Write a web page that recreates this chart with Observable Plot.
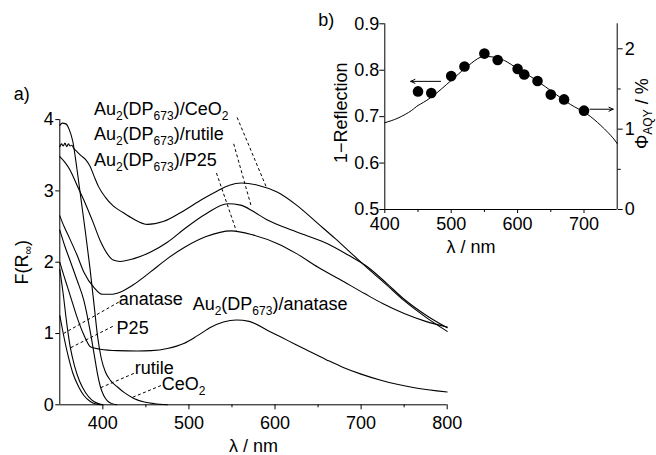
<!DOCTYPE html>
<html><head><meta charset="utf-8">
<script src="https://cdn.jsdelivr.net/npm/d3@7"></script>
<script src="https://cdn.jsdelivr.net/npm/@observablehq/plot@0.6"></script>
<style>
html,body{margin:0;padding:0;background:#fff;}
#wrap{position:relative;width:656px;height:455px;overflow:hidden;background:#fff;}
#wrap svg{position:absolute;left:0;top:0;}
</style></head><body><div id="wrap"></div>
<script>
// ---------- Panel a) : F(R∞) spectra ----------
const auCeO2_nm = [350,352,354,356,358,360,362,364,366,370,375,380,385,390,395,403,412,423,435,452,470,495,515,533,547,561,580,603,625,650,670,689,708,728,750,775,800];
const auCeO2_F  = [3.62,3.66,3.63,3.67,3.62,3.66,3.63,3.64,3.60,3.55,3.49,3.44,3.35,3.20,3.06,2.91,2.79,2.70,2.61,2.53,2.57,2.73,2.88,3.00,3.08,3.11,3.08,2.98,2.80,2.54,2.33,2.12,1.91,1.70,1.46,1.23,1.03];

const auRut_nm = [350,356,362,370,378,388,397,405,412,420,436,455,475,495,520,545,560,575,590,611,635,661,685,708,730,750,775,800];
const auRut_F  = [3.48,3.40,3.29,3.08,2.87,2.58,2.30,2.12,2.03,2.01,2.05,2.14,2.28,2.47,2.68,2.82,2.80,2.71,2.60,2.49,2.38,2.26,2.10,1.93,1.70,1.48,1.26,1.08];

const auP25_nm = [350,355,360,370,378,390,399,410,420,435,455,475,495,520,549,575,603,625,650,675,704,725,750,775,800];
const auP25_F  = [2.65,2.50,2.37,2.10,1.86,1.64,1.55,1.55,1.58,1.68,1.86,2.05,2.21,2.36,2.44,2.38,2.26,2.12,1.93,1.76,1.56,1.42,1.28,1.17,1.09];

const auAna_nm = [350,355,359,365,370,378,386,397,417,440,456,475,494,510,526,540,555,570,592,615,638,660,680,700,724,762,800];
const auAna_F  = [2.00,1.80,1.65,1.42,1.23,0.98,0.81,0.78,0.76,0.755,0.76,0.79,0.86,0.97,1.09,1.16,1.19,1.17,1.04,0.90,0.76,0.63,0.52,0.43,0.34,0.24,0.18];

const ceo2_nm = [350,353,357,361,365,370,375,380,385,390,394,398,403,409,417,425,436,448,460,475];
const ceo2_F  = [3.92,3.95,3.94,3.86,3.70,3.30,2.85,2.40,1.92,1.38,0.95,0.66,0.46,0.34,0.25,0.17,0.09,0.04,0.015,0.0];

const rut_nm = [350,356,362,370,378,385,390,394,397,401,405,410,416];
const rut_F  = [2.45,2.22,2.02,1.75,1.46,1.05,0.70,0.42,0.26,0.13,0.06,0.02,0.0];

const p25_nm = [350,354,358,362,367,373,380,387,394,400];
const p25_F  = [1.90,1.55,1.15,0.82,0.55,0.33,0.17,0.07,0.02,0.0];

const ana_nm = [350,354,359,365,372,378,385,392,398];
const ana_F  = [1.25,1.00,0.72,0.45,0.25,0.13,0.05,0.01,0.0];

const xTicksA = [400,500,600,700,800];
const xMinorA = [450,550,650,750];
const yTicksA = [0,1,2,3,4];

// labels of panel a)
const labTextA = ["Au_{2}(DP_{673})/CeO_{2}","Au_{2}(DP_{673})/rutile","Au_{2}(DP_{673})/P25","anatase","P25","rutile","CeO_{2}","Au_{2}(DP_{673})/anatase"];
const labXA = [389.6,389.6,389.6,418.4,416,437,468.5,504.3];
const labYA = [4.14,3.79,3.43,1.48,1.08,0.51,0.285,1.41];
// leader lines (label end -> curve)
const leadX1 = [556,552,532,418.4,411.5,436,467.5];
const leadY1 = [4.03,3.66,3.25,1.44,1.10,0.44,0.27];
const leadX2 = [590,572,555,354.4,362.5,397.5,433.6];
const leadY2 = [3.05,2.80,2.44,1.00,0.80,0.24,0.10];

// ---------- Panel b) ----------
const refl_nm = [400,420,440,450,470,500,520,540,550,560,580,600,620,650,680,700,720,740,750];
const refl_v  = [0.687,0.697,0.713,0.724,0.742,0.778,0.803,0.825,0.829,0.829,0.821,0.803,0.786,0.756,0.726,0.710,0.688,0.660,0.642];
const aqy_nm = [450,470,500,520,550,570,600,610,630,650,670,700];
const aqy_v  = [1.47,1.45,1.66,1.78,1.94,1.86,1.75,1.68,1.60,1.43,1.37,1.23];
const xTicksB = [400,500,600,700];
const xMinorB = [450,550,650];
const yTicksB = [0.5,0.6,0.7,0.8,0.9];
const yTicksR = [0,1,2];
const yMinorR = [0.5,1.5];
// arrows: [x1,x2,y]
const arrX1 = [484,709];
const arrX2 = [439,744];
const arrY  = [0.776,0.716];

// ---------- build ----------
const series = [
  ["Au2(DP673)/CeO2", auCeO2_nm, auCeO2_F],
  ["Au2(DP673)/rutile", auRut_nm, auRut_F],
  ["Au2(DP673)/P25", auP25_nm, auP25_F],
  ["Au2(DP673)/anatase", auAna_nm, auAna_F],
  ["CeO2", ceo2_nm, ceo2_F],
  ["rutile", rut_nm, rut_F],
  ["P25", p25_nm, p25_F],
  ["anatase", ana_nm, ana_F]
];
const specData = series.flatMap(([s, xs, ys]) => xs.map((x, i) => ({s, nm: x, F: ys[i]})));
const labA = labTextA.map((t, i) => ({t, x: labXA[i], y: labYA[i]}));
const leads = leadX1.map((x, i) => ({x1: x, y1: leadY1[i], x2: leadX2[i], y2: leadY2[i]}));
const reflData = refl_nm.map((x, i) => ({nm: x, v: refl_v[i]}));
const aqyData = aqy_nm.map((x, i) => ({nm: x, v: aqy_v[i]}));
const arrows = arrX1.map((x, i) => ({x1: x, x2: arrX2[i], y: arrY[i]}));

const FONT = "'Liberation Sans', Arial, Helvetica, sans-serif";
const FS = 18;
const baseStyle = {fontFamily: FONT, fontSize: FS + "px", color: "black", background: "transparent", overflow: "visible"};
const T = {fill: "black", fontSize: FS, textAnchor: "middle", lineAnchor: "middle"};

function subify(svg, subSize, shift) {
  d3.select(svg).selectAll("text").each(function() {
    const s = this.textContent;
    if (!s.includes("_{")) return;
    const parts = s.split(/(_\{[^}]*\})/).filter(p => p.length);
    while (this.firstChild) this.removeChild(this.firstChild);
    let prevSub = false;
    for (const p of parts) {
      const ts = document.createElementNS("http://www.w3.org/2000/svg", "tspan");
      if (p.startsWith("_{")) {
        ts.textContent = p.slice(2, -1);
        ts.setAttribute("font-size", subSize);
        if (!prevSub) ts.setAttribute("dy", shift);
        prevSub = true;
      } else {
        ts.textContent = p;
        if (prevSub) ts.setAttribute("dy", -shift);
        prevSub = false;
      }
      this.appendChild(ts);
    }
  });
}

const W = 656, H = 455;
const main = Plot.plot({
  width: W, height: H,
  marginLeft: 59.3, marginRight: 209.3, marginTop: 119.1, marginBottom: 50.7,
  style: baseStyle,
  x: {domain: [350, 800], label: null},
  y: {domain: [0, 4], label: null},
  marks: [
    Plot.ruleX([350], {y1: 0, y2: 4, stroke: "black", strokeWidth: 1}),
    Plot.ruleY([0], {x1: 350, x2: 800, stroke: "black", strokeWidth: 1}),
    Plot.axisY(yTicksA, {tickSize: 4, tickPadding: 2, tickFormat: d => String(d), stroke: "black", fontSize: FS}),
    Plot.axisX(xTicksA, {tickSize: 5, tickPadding: 6.5, tickFormat: d => String(d), stroke: "black", fontSize: FS}),
    Plot.axisX(xMinorA, {tickSize: 3, tickFormat: () => "", stroke: "black"}),
    Plot.line(specData, {x: "nm", y: "F", z: "s", curve: "monotone-x", stroke: "black", strokeWidth: 1.1}),
    Plot.link(leads, {x1: "x1", y1: "y1", x2: "x2", y2: "y2", stroke: "black", strokeWidth: 1, strokeDasharray: "3,2.5"}),
    Plot.text(labA, {x: "x", y: "y", text: "t", textAnchor: "start", lineAnchor: "middle", fontSize: FS, fill: "black"}),
    Plot.text(["λ / nm"], {...T, frameAnchor: "bottom", dy: 41.5}),
    Plot.text(["F(R_{∞})"], {...T, frameAnchor: "left", dx: -38, rotate: -90}),
    Plot.text(["a)"], {...T, frameAnchor: "top-left", dx: -38, dy: -25.6})
  ]
});
subify(main, 12, 4.5);

const insetL = Plot.plot({
  width: W, height: H,
  marginLeft: 384.3, marginRight: 39.3, marginTop: 23.3, marginBottom: 246,
  style: baseStyle,
  x: {domain: [400, 750], label: null},
  y: {domain: [0.5, 0.9], label: null},
  marks: [
    Plot.ruleX([400], {y1: 0.5, y2: 0.9, stroke: "black", strokeWidth: 1}),
    Plot.ruleX([750], {y1: 0.5, y2: 0.9, stroke: "black", strokeWidth: 1}),
    Plot.ruleY([0.5], {x1: 400, x2: 750, stroke: "black", strokeWidth: 1}),
    Plot.axisY(yTicksB, {tickSize: 5, tickPadding: 0.5, tickFormat: d3.format(".1f"), stroke: "black", fontSize: FS}),
    Plot.axisX(xTicksB, {tickSize: 4, tickPadding: 4, tickFormat: d => String(d), stroke: "black", fontSize: FS}),
    Plot.axisX(xMinorB, {tickSize: 3, tickFormat: () => "", stroke: "black"}),
    Plot.line(reflData, {x: "nm", y: "v", curve: "natural", stroke: "black", strokeWidth: 1}),
    Plot.arrow(arrows, {x1: "x1", x2: "x2", y1: "y", y2: "y", stroke: "black", strokeWidth: 1, headLength: 7, headAngle: 50}),
    Plot.text(["1−Reflection"], {...T, frameAnchor: "left", dx: -44, dy: -4, rotate: -90}),
    Plot.text(["λ / nm"], {...T, frameAnchor: "bottom", dy: 38, dx: -30}),
    Plot.text(["b)"], {...T, frameAnchor: "top-left", dx: -58.5, dy: -3.3})
  ]
});

const insetR = Plot.plot({
  width: W, height: H,
  marginLeft: 384.3, marginRight: 39.3, marginTop: 23.3, marginBottom: 246,
  style: baseStyle,
  x: {domain: [400, 750], label: null, axis: null},
  y: {domain: [0, 2.311], label: null},
  marks: [
    Plot.axisY(yTicksR, {anchor: "right", tickSize: 5, tickPadding: 2.5, tickFormat: d => String(d), stroke: "black", fontSize: FS}),
    Plot.axisY(yMinorR, {anchor: "right", tickSize: 3, tickFormat: () => "", stroke: "black"}),
    Plot.dot(aqyData, {x: "nm", y: "v", r: 5.3, fill: "black", stroke: "none"}),
    Plot.text(["Φ_{AQY} / %"], {...T, frameAnchor: "right", dx: 25, dy: -3, rotate: -90})
  ]
});
subify(insetR, 12, 4.5);

const wrap = document.getElementById("wrap");
wrap.appendChild(main);
wrap.appendChild(insetL);
wrap.appendChild(insetR);
</script></body></html>
